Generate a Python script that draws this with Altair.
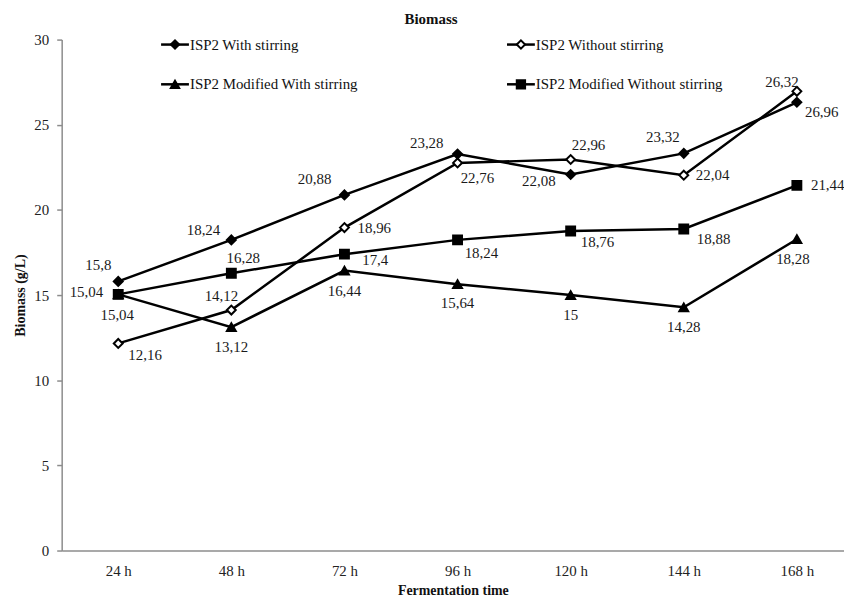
import altair as alt
import pandas as pd

# ---- data ----
hours = [24, 48, 72, 96, 120, 144, 168]
series_names = [
    "ISP2 With stirring",
    "ISP2 Without stirring",
    "ISP2 Modified With stirring",
    "ISP2 Modified Without stirring",
]
with_stirring = [15.8, 18.24, 20.88, 23.28, 22.08, 23.32, 26.32]
without_stirring = [12.16, 14.12, 18.96, 22.76, 22.96, 22.04, 26.96]
mod_with_stirring = [15.04, 13.12, 16.44, 15.64, 15.0, 14.28, 18.28]
mod_without_stirring = [15.04, 16.28, 17.4, 18.24, 18.76, 18.88, 21.44]

# label offsets (pixels) per point, per series
with_dx = [-20, -28, -30, -31, -32, -21, -15]
with_dy = [-16, -10, -16, -11, 7, -16, -20]
without_dx = [27, -10, 30, 20, 18, 29, 25]
without_dy = [12, -14, 0, 15, -15, 0, 21]
modw_dx = [-1, 0, 0, 0, 0, 0, -4]
modw_dy = [21, 20, 21, 19, 20, 20, 20]
modwo_dx = [-32, 12, 31, 24, 27, 30, 31]
modwo_dy = [-2, -15, 6, 13, 11, 10, 0]

values = [with_stirring, without_stirring, mod_with_stirring, mod_without_stirring]
dxs = [with_dx, without_dx, modw_dx, modwo_dx]
dys = [with_dy, without_dy, modw_dy, modwo_dy]

rows = []
for name, vals, dx, dy in zip(series_names, values, dxs, dys):
    for h, v, a, b in zip(hours, vals, dx, dy):
        rows.append({
            "series": name, "hour": h, "value": v,
            "label": f"{v:g}".replace(".", ","), "dx": a, "dy": b,
        })
df = pd.DataFrame(rows)

legend_col = [0, 1, 0, 1]
legend_row = [0, 0, 1, 1]
legend_df = pd.DataFrame({"series": series_names, "col": legend_col, "row": legend_row})

FONT = "Liberation Serif"
W, H = 787, 514
X_DOMAIN = [12, 178]
Y_DOMAIN = [0, 30]
PX_PER_HOUR = W / (X_DOMAIN[1] - X_DOMAIN[0])
PX_PER_UNIT = H / (Y_DOMAIN[1] - Y_DOMAIN[0])

shape_scale = alt.Scale(domain=series_names, range=["diamond", "diamond", "triangle-up", "square"])
fill_scale = alt.Scale(domain=series_names, range=["black", "white", "black", "black"])

x = alt.X(
    "hour:Q",
    scale=alt.Scale(domain=X_DOMAIN, nice=False, zero=False),
    axis=alt.Axis(
        values=hours, labelExpr="datum.value + ' h'", title="Fermentation time",
        grid=False, ticks=False, labelPadding=13, titlePadding=5,
    ),
)
y = alt.Y(
    "value:Q",
    scale=alt.Scale(domain=Y_DOMAIN, nice=False),
    axis=alt.Axis(
        values=[0, 5, 10, 15, 20, 25, 30], title="Biomass (g/L)", grid=False,
        tickSize=5, labelPadding=8, titlePadding=6,
    ),
)

lines = alt.Chart(df).mark_line(color="black", strokeWidth=2.5).encode(
    x=x, y=y, detail="series:N", order="hour:Q"
)
points = alt.Chart(df).mark_point(
    stroke="black", strokeWidth=2, opacity=1, fillOpacity=1, size=80
).encode(
    x=x, y=y,
    shape=alt.Shape("series:N", scale=shape_scale, legend=None),
    fill=alt.Fill("series:N", scale=fill_scale, legend=None),
)
labels = alt.Chart(df).transform_calculate(
    lhour=f"datum.hour + datum.dx / {PX_PER_HOUR}",
    lvalue=f"datum.value - datum.dy / {PX_PER_UNIT}",
).mark_text(
    font=FONT, fontSize=15, color="#1a1a1a", align="center", baseline="middle"
).encode(
    x=alt.X("lhour:Q", scale=alt.Scale(domain=X_DOMAIN, nice=False, zero=False)),
    y=alt.Y("lvalue:Q", scale=alt.Scale(domain=Y_DOMAIN, nice=False)),
    text="label:N",
)

data_layer = alt.layer(lines, points, labels)

lx = alt.X("col:Q", scale=alt.Scale(domain=[0, 1], range=[114, 462]), axis=None)
ly = alt.Y("row:Q", scale=alt.Scale(domain=[0, 1], range=[5, 45]), axis=None)

leg_seg = alt.Chart(legend_df).mark_point(
    shape="M-1,0L1,0", size=784, stroke="black", strokeWidth=2.5, opacity=1
).encode(x=lx, y=ly)
leg_mark = alt.Chart(legend_df).mark_point(
    stroke="black", strokeWidth=2, opacity=1, fillOpacity=1, size=70
).encode(
    x=lx, y=ly,
    shape=alt.Shape("series:N", scale=shape_scale, legend=None),
    fill=alt.Fill("series:N", scale=fill_scale, legend=None),
)
leg_text = alt.Chart(legend_df).mark_text(
    font=FONT, fontSize=15, color="#111", align="left", baseline="middle", dx=15
).encode(x=lx, y=ly, text="series:N")

legend_layer = alt.layer(leg_seg, leg_mark, leg_text)

chart = alt.layer(data_layer, legend_layer).resolve_scale(
    x="independent", y="independent"
).properties(
    width=W, height=H,
    padding={"left": 54, "top": 30, "right": 0, "bottom": 50},
    autosize="none",
    background="white",
    title=alt.Title("Biomass", font=FONT, fontSize=15, fontWeight="bold",
                    anchor="middle", dx=-22, offset=6, color="#111"),
).configure_view(stroke=None).configure_axis(
    domainColor="#8c8c8c", domainWidth=1.5, tickColor="#8c8c8c", tickWidth=1.5,
    labelFont=FONT, labelFontSize=15, labelColor="#222",
    titleFont=FONT, titleFontSize=14, titleFontWeight="bold", titleColor="#111",
)

chart.save("out.html", embed_options={"renderer": "svg", "actions": False})
